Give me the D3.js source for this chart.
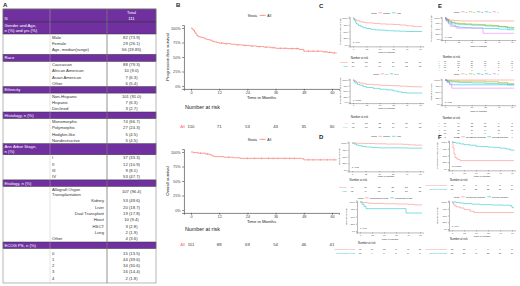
<!DOCTYPE html>
<html><head><meta charset="utf-8">
<script src="https://cdn.jsdelivr.net/npm/d3@7"></script>
<style>body{margin:0;background:#fff}svg{display:block;font-family:"Liberation Sans",Arial,sans-serif}</style>
</head><body><svg id="c" width="520" height="286"></svg>
<script>
// ---------------- DATA ----------------
const riskTimes = [0,12,24,36,48,60];
const axisTicksX = [0,12,24,36,48,60];
const axisTicksY = [0,0.25,0.5,0.75,1];

// Table A
const headerLabels = ["N","","Total","111"];
const genderTitle = ["Gender and Age,","n (%) and yrs (%)"];
const genderLabels = ["Male","Female","Age, median(range)"];
const genderValues = ["82 (73.9)","29 (26.1)","56 (19-85)"];
const raceLabels = ["Caucasian","African American","Asian American","Other"];
const raceValues = ["88 (79.3)","10 (9.0)","7 (6.3)","6 (5.4)"];
const ethLabels = ["Non-Hispanic","Hispanic","Declined"];
const ethValues = ["101 (91.0)","7 (6.3)","3 (2.7)"];
const histLabels = ["Monomorphic","Polymorphic","Hodgkin-like","Nondestructive"];
const histValues = ["74 (66.7)","27 (24.3)","5 (4.5)","5 (4.5)"];
const stageLabels = ["I","II","III","IV"];
const stageValues = ["37 (33.3)","12 (10.9)","9 (8.1)","53 (47.7)"];
const etioTopLabel = ["Allograft Organ","Transplantation"];
const etioTopValue = "107 (96.4)";
const organLabels = ["Kidney","Liver","Dual Transplant","Heart","HSCT","Lung"];
const organValues = ["53 (49.6)","20 (18.7)","19 (17.8)","10 (9.4)","3 (2.8)","2 (1.9)"];
const etioOther = ["Other","4 (3.6)"];
const ecogLabels = ["0","1","2","3","4"];
const ecogValues = ["15 (13.5)","44 (39.6)","34 (30.6)","16 (14.4)","2 (1.8)"];

// Panel B
const pfsAll = [[0,1],[0.5,0.98],[1,0.96],[1.5,0.93],[2,0.9],[2.5,0.87],[3,0.85],[4,0.84],[5,0.83],[6,0.81],[7,0.8],[8,0.79],[9,0.77],[10,0.76],[11,0.75],[12,0.74],[14,0.73],[17,0.72],[19,0.71],[22,0.7],[25,0.69],[28,0.68],[31,0.67],[34,0.66],[36,0.65],[41,0.645],[46,0.63],[48,0.6],[56,0.59],[58,0.58],[60,0.57],[62,0.57]];
const pfsCensor = [13,15,20,23,26,29,32,35,38,40,43,45,50,52,54,57,59,61];
const pfsRisk = [110,71,53,43,35,30];
const osAll = [[0,1],[1,0.99],[3,0.98],[6,0.965],[8,0.95],[9,0.93],[10,0.92],[14,0.91],[18,0.9],[21,0.89],[47,0.885],[48,0.865],[62,0.865]];
const osCensor = [4,7,16,24,27,30,33,35,37,40,42,44,50,52,55,58,61];
const osRisk = [111,88,69,54,46,41];

// Panel C
const cStrata1 = ["Normal","High"];
const c1a = [[0,1],[1,0.95],[3,0.9],[6,0.86],[9,0.84],[12,0.82],[18,0.8],[24,0.78],[30,0.77],[36,0.76],[42,0.74],[48,0.71],[54,0.68],[62,0.68]];
const c1b = [[0,1],[1,0.92],[2,0.85],[3,0.78],[5,0.72],[7,0.68],[9,0.64],[12,0.61],[16,0.58],[20,0.56],[24,0.55],[30,0.53],[36,0.52],[42,0.51],[48,0.5],[62,0.5]];
const c1Risk = [[50,37,29,24,20,17],[60,34,24,19,15,13]];
const cStrata2 = ["I-II","III-IV"];
const c2a = [[0,1],[1,0.96],[3,0.9],[6,0.86],[9,0.83],[12,0.8],[18,0.78],[24,0.76],[30,0.75],[36,0.74],[42,0.72],[48,0.7],[54,0.69],[62,0.69]];
const c2b = [[0,1],[1,0.93],[2,0.86],[4,0.8],[6,0.76],[9,0.7],[12,0.66],[18,0.62],[24,0.58],[30,0.55],[36,0.5],[40,0.46],[44,0.43],[48,0.41],[62,0.41]];
const c2Risk = [[48,35,28,24,21,17],[62,36,25,19,14,13]];

// Panel D
const d1a = [[0,1],[4,0.99],[10,0.98],[20,0.97],[30,0.96],[45,0.95],[50,0.93],[56,0.92],[62,0.92]];
const d1b = [[0,1],[2,0.96],[4,0.92],[6,0.9],[9,0.87],[12,0.85],[18,0.83],[24,0.82],[36,0.82],[48,0.81],[62,0.81]];
const d1Risk = [[49,39,33,28,25,21],[62,49,36,26,21,20]];
const dStrata2 = ["Monomorphic PTLD","Polymorphic PTLD"];
const d2a = [[0,1],[3,0.98],[8,0.96],[12,0.95],[24,0.94],[36,0.93],[48,0.92],[54,0.9],[62,0.9]];
const d2b = [[0,1],[2,0.92],[4,0.85],[6,0.77],[44,0.77],[46,0.62],[62,0.62]];
const d2Risk = [[98,79,62,49,41,36],[13,9,7,5,5,5]];

// Panel E (ECOG PS 0-4)
const eStrata = ["0","1","2","3","4"];
const e1s0 = [[0,1],[2,0.94],[4,0.9],[8,0.88],[12,0.86],[62,0.86]];
const e1s1 = [[0,1],[1,0.94],[3,0.86],[6,0.8],[9,0.76],[12,0.74],[18,0.72],[24,0.7],[30,0.68],[36,0.66],[42,0.63],[48,0.6],[54,0.56],[60,0.54],[62,0.54]];
const e1s2 = [[0,1],[1,0.92],[3,0.82],[6,0.76],[9,0.72],[12,0.7],[18,0.68],[24,0.66],[36,0.62],[48,0.58],[56,0.52],[62,0.52]];
const e1s3 = [[0,1],[1,0.88],[3,0.76],[6,0.66],[9,0.6],[12,0.56],[18,0.54],[24,0.52],[36,0.5],[48,0.47],[56,0.44],[62,0.44]];
const e1s4 = [[0,1],[1,0.85],[3,0.72],[5,0.6],[10,0.52],[30,0.52],[34,0.27],[62,0.27]];
const e1Risk = [[15,13,11,10,9,8],[44,30,24,19,16,13],[34,19,13,10,7,6],[15,8,5,4,3,3],[2,1,0,0,0,0]];
const e2s0 = [[0,1],[62,1]];
const e2s1 = [[0,1],[2,0.98],[6,0.96],[12,0.95],[36,0.93],[48,0.9],[56,0.86],[62,0.86]];
const e2s2 = [[0,1],[1,0.96],[3,0.93],[6,0.92],[12,0.9],[24,0.88],[36,0.86],[48,0.84],[56,0.8],[62,0.8]];
const e2s3 = [[0,1],[2,0.92],[4,0.84],[6,0.8],[62,0.8]];
const e2s4 = [[0,1],[2,0.9],[4,0.8],[6,0.66],[62,0.66]];
const e2Risk = [[15,14,12,11,9,8],[44,36,28,22,19,17],[34,25,19,14,12,11],[16,11,9,6,5,4],[2,2,1,1,1,1]];

// Panel F
const fStrata = ["No Rituxan response","Rituxan response"];
const f1a = [[0,1],[1,0.78],[2,0.56],[3,0.42],[5,0.36],[8,0.31],[62,0.31]];
const f1b = [[0,1],[2,0.98],[4,0.96],[8,0.93],[12,0.9],[18,0.88],[24,0.84],[30,0.83],[36,0.81],[42,0.8],[48,0.77],[54,0.74],[58,0.7],[62,0.68]];
const f1Risk = [[18,5,3,3,2,2],[58,47,38,32,26,19]];
const f2a = [[0,1],[1,0.94],[2,0.88],[4,0.82],[8,0.78],[12,0.72],[18,0.66],[22,0.61],[62,0.61]];
const f2b = [[0,1],[4,0.98],[8,0.96],[12,0.94],[20,0.92],[28,0.9],[40,0.89],[50,0.88],[58,0.86],[60,0.79],[62,0.79]];
const f2Risk = [[18,13,9,7,6,3],[58,50,40,33,27,19]];

const RED = "#F8766D", TEAL = "#00BFC4";
const ECOGCOL = ["#F8766D","#A3A500","#00BF7D","#00B0F6","#E76BF3"];

// ---------------- DRAW ----------------
const svg = d3.select("#c");
const PURPLE = "#7030A0";

function letter(t,x,y){svg.append("text").attr("x",x).attr("y",y).attr("font-size",6).attr("font-weight","bold").attr("fill","#222").text(t);}
letter("A",3,7);letter("B",176,7);letter("C",319,8);letter("D",319,139);letter("E",438,8);letter("F",438,139);

// ---- Table A ----
(function(){
  const tx0=3, c1=50, c2=107, tx1=156, fs=4.2, rh=6.3;
  const g = svg.append("g");
  let y = 9;
  function band(lines,h){
    g.append("rect").attr("x",tx0).attr("y",y).attr("width",tx1-tx0).attr("height",h).attr("fill",PURPLE).attr("stroke","#333").attr("stroke-width",0.5);
    lines.forEach((l,i)=>g.append("text").attr("x",tx0+1.5).attr("y",y+h/2+1.5-(lines.length-1)*2.6+i*5.2).attr("font-size",fs).attr("fill","#fff").text(l));
    y+=h;
  }
  function rows(labels,values,anchor){
    labels.forEach((l,i)=>{
      const cy=y+rh/2+1.4;
      const t=g.append("text").attr("y",cy).attr("font-size",fs).attr("fill","#333").text(l);
      if(anchor==="end") t.attr("x",c2-3).attr("text-anchor","end"); else t.attr("x",c1+2);
      g.append("text").attr("x",(c2+tx1)/2).attr("y",cy).attr("text-anchor","middle").attr("font-size",fs).attr("fill","#333").text(values[i]);
      y+=rh;
    });
  }
  const top=y;
  g.append("rect").attr("x",tx0).attr("y",y).attr("width",tx1-tx0).attr("height",13).attr("fill",PURPLE).attr("stroke","#333").attr("stroke-width",0.5);
  g.append("text").attr("x",tx0+1.5).attr("y",y+11).attr("font-size",fs).attr("fill","#fff").text(headerLabels[0]);
  g.append("text").attr("x",(c2+tx1)/2).attr("y",y+5.2).attr("text-anchor","middle").attr("font-size",fs).attr("fill","#fff").text(headerLabels[2]);
  g.append("text").attr("x",(c2+tx1)/2).attr("y",y+11).attr("text-anchor","middle").attr("font-size",fs).attr("fill","#fff").text(headerLabels[3]);
  y+=13;
  band(genderTitle,12); rows(genderLabels,genderValues); y+=1.5;
  band(["Race"],7); rows(raceLabels,raceValues);
  band(["Ethnicity"],6.5); rows(ethLabels,ethValues);
  band(["Histology, n (%)"],6.5); rows(histLabels,histValues);
  band(["Ann Arbor Stage,","n (%)"],11); rows(stageLabels,stageValues);
  band(["Etiology, n (%)"],6.5);
  etioTopLabel.forEach((l,i)=>g.append("text").attr("x",c1+2).attr("y",y+4.5+i*5.2).attr("font-size",fs).attr("fill","#333").text(l));
  g.append("text").attr("x",(c2+tx1)/2).attr("y",y+7).attr("text-anchor","middle").attr("font-size",fs).attr("fill","#333").text(etioTopValue);
  y+=11.5;
  rows(organLabels,organValues,"end");
  rows([etioOther[0]],[etioOther[1]]);
  band(["ECOG PS, n (%)"],6.5); y+=1.5; rows(ecogLabels,ecogValues);
  const bot=y+1.5;
  g.append("line").attr("x1",c2).attr("x2",c2).attr("y1",top).attr("y2",bot).attr("stroke","#777").attr("stroke-width",0.8);
  g.append("line").attr("x1",c1).attr("x2",c1).attr("y1",top).attr("y2",bot).attr("stroke","#bbb").attr("stroke-width",0.4);
  g.append("rect").attr("x",tx0).attr("y",top).attr("width",tx1-tx0).attr("height",bot-top).attr("fill","none").attr("stroke","#888").attr("stroke-width",0.6);
})();

// ---- KM plot helper ----
function km(c){
  const g = svg.append("g");
  const x = d3.scaleLinear().domain([0,60]).range([c.t0,c.t60]);
  const y = d3.scaleLinear().domain([0,1]).range([c.y0,c.y1]);
  const xa = d3.scaleLinear().domain([-3,63]).range([x(-3),x(63)]);
  const ya = d3.scaleLinear().domain([-0.05,1.05]).range([y(-0.05),y(1.05)]);
  const fs=c.fs, ax="#333";
  const gy = g.append("g").attr("transform",`translate(${x(-3)},0)`)
    .call(d3.axisLeft(ya).tickValues(axisTicksY).tickFormat(d3.format(".0%")).tickSize(c.tick).tickPadding(c.tick*0.8));
  const gx = g.append("g").attr("transform",`translate(0,${y(-0.05)})`)
    .call(d3.axisBottom(xa).tickValues(axisTicksX).tickFormat(d3.format("d")).tickSize(c.tick).tickPadding(c.tick*0.6));
  [gy,gx].forEach(a=>{a.selectAll("path,line").attr("stroke",ax).attr("stroke-width",c.aw);
    a.selectAll("text").attr("font-size",fs.tick).attr("fill","#444").attr("font-family","Liberation Sans, Arial, sans-serif");});
  const line = d3.line().x(d=>x(d[0])).y(d=>y(d[1])).curve(d3.curveStepAfter);
  c.curves.forEach((cv,i)=>{
    g.append("path").datum(cv).attr("d",line).attr("fill","none").attr("stroke",c.colors[i]).attr("stroke-width",c.lw);
    if(c.censor && c.censor[i]){
      const bis = d3.bisector(d=>d[0]).right;
      c.censor[i].forEach(t=>{
        const s = cv[Math.max(0,bis(cv,t)-1)][1];
        g.append("line").attr("x1",x(t)).attr("x2",x(t)).attr("y1",y(s)-c.cen).attr("y2",y(s)+c.cen).attr("stroke",c.colors[i]).attr("stroke-width",c.lw*0.8);
      });
    }
  });
  g.append("text").attr("x",(x(-3)+x(63))/2).attr("y",c.xlabY).attr("text-anchor","middle").attr("font-size",fs.title).attr("fill","#222").text("Time in Months");
  g.append("text").attr("transform",`translate(${c.ytX},${y(0.5)}) rotate(-90)`).attr("text-anchor","middle").attr("font-size",fs.title).attr("fill","#222").text(c.ytitle);
  if(c.pval) g.append("text").attr("x",x(0)).attr("y",y(0.06)).attr("font-size",fs.tick).attr("fill","#222").text(c.pval);
  const lg = g.append("g");
  let lx = 0;
  const st = lg.append("text").attr("x",0).attr("y",0).attr("font-size",fs.leg).attr("fill","#222").text("Strata");
  lx += st.node().getComputedTextLength()+fs.leg*0.8;
  c.strata.forEach((s,i)=>{
    lg.append("line").attr("x1",lx).attr("x2",lx+fs.leg*1.8).attr("y1",-fs.leg*0.33).attr("y2",-fs.leg*0.33).attr("stroke",c.colors[i]).attr("stroke-width",c.lw);
    lg.append("text").attr("x",lx+fs.leg*0.9).attr("y",-fs.leg*0.02).attr("text-anchor","middle").attr("font-size",fs.leg*0.9).attr("fill",c.colors[i]).text("+");
    lx += fs.leg*2.3;
    const t = lg.append("text").attr("x",lx).attr("y",0).attr("font-size",fs.leg).attr("fill","#222").text(s);
    lx += t.node().getComputedTextLength()+fs.leg*0.9;
  });
  lg.attr("transform",`translate(${c.legX-lx/2},${c.legY})`);
  g.append("text").attr("x",x(-3)+c.narDx).attr("y",c.narY).attr("font-size",fs.nar).attr("fill","#222").text("Number at risk");
  c.risk.forEach((r,i)=>{
    g.append("text").attr("x",x(-3)-c.rlabGap).attr("y",c.riskY[i]).attr("text-anchor","end").attr("font-size",fs.risk).attr("fill",c.colors[i]).text(c.strata[i]);
    r.forEach((v,j)=>g.append("text").attr("x",x(riskTimes[j])).attr("y",c.riskY[i]).attr("text-anchor","middle").attr("font-size",fs.risk).attr("fill","#333").text(v));
  });
}

const bigFs = {tick:3.8,title:4.3,leg:3.4,nar:5.4,risk:4.3};
km({t0:191,t60:332,y1:28,y0:86,curves:[pfsAll],censor:[pfsCensor],cen:0.9,colors:[RED],strata:["All"],risk:[pfsRisk],
  fs:bigFs,tick:1.8,aw:0.6,lw:0.7,legX:261,legY:16.5,xlabY:99,ytX:169,ytitle:"Progression-free survival",
  narY:109,narDx:1,riskY:[128],rlabGap:-1,pval:null});
km({t0:191,t60:332,y1:152,y0:210,curves:[osAll],censor:[osCensor],cen:0.9,colors:[RED],strata:["All"],risk:[osRisk],
  fs:bigFs,tick:1.8,aw:0.6,lw:0.7,legX:261,legY:140.5,xlabY:223,ytX:169,ytitle:"Overall survival",
  narY:231,narDx:1,riskY:[246],rlabGap:-1,pval:null});

const smFs = {tick:2.2,title:2.4,leg:2.1,nar:2.7,risk:2.3};
function small(o){ km(Object.assign({fs:smFs,tick:1,aw:0.35,lw:0.5,rlabGap:2,narDx:1},o)); }
small({t0:353,t60:420,y1:18,y0:45,curves:[c1a,c1b],colors:[RED,TEAL],strata:cStrata1,risk:c1Risk,
  legX:387,legY:13.5,xlabY:52.5,ytX:341,ytitle:"Progression-free survival",narY:58.5,riskY:[62.5,67],pval:"p=0.04"});
small({t0:353,t60:420,y1:80,y0:102,curves:[c2a,c2b],colors:[RED,TEAL],strata:cStrata2,risk:c2Risk,
  legX:387,legY:74.5,xlabY:109,ytX:341,ytitle:"Progression-free survival",narY:117.5,riskY:[123.5,128],pval:"p=0.018"});
small({t0:352,t60:420,y1:143,y0:170,curves:[d1a,d1b],colors:[RED,TEAL],strata:cStrata1,risk:d1Risk,
  legX:387,legY:137,xlabY:177,ytX:340,ytitle:"Overall survival",narY:180.5,riskY:[187.5,191.5],pval:"p=0.03"});
small({t0:360,t60:420,y1:202,y0:231,curves:[d2a,d2b],colors:[RED,TEAL],strata:dStrata2,risk:d2Risk,
  legX:386,legY:198.5,xlabY:240,ytX:347,ytitle:"Overall survival",narY:244,riskY:[249.5,253.5],pval:"p=0.01"});

small({t0:445,t60:512,y1:18,y0:39,curves:[e1s0,e1s1,e1s2,e1s3,e1s4],colors:ECOGCOL,strata:eStrata,risk:e1Risk,
  legX:477,legY:12.5,xlabY:46.5,ytX:432,ytitle:"Progression-free survival",narY:57.5,riskY:[61.5,63.8,66.1,68.4,70.7],pval:"p=0.03",
  fs:{tick:2.2,title:2.4,leg:2.1,nar:2.7,risk:2.1}});
small({t0:445,t60:512,y1:80,y0:104,curves:[e2s0,e2s1,e2s2,e2s3,e2s4],colors:ECOGCOL,strata:eStrata,risk:e2Risk,
  legX:477,legY:74.5,xlabY:111.5,ytX:432,ytitle:"Overall survival",narY:119,riskY:[123.5,127,130.5,134,137.5],pval:"p=0.13",
  fs:{tick:2.2,title:2.4,leg:2.1,nar:2.7,risk:2.1}});
small({t0:452,t60:512,y1:142,y0:169,curves:[f1a,f1b],colors:[RED,TEAL],strata:fStrata,risk:f1Risk,
  legX:482,legY:137.5,xlabY:176.5,ytX:438,ytitle:"Progression-free survival",narY:181,riskY:[185.5,189.5],pval:"p<0.0001"});
small({t0:452,t60:512,y1:202,y0:229,curves:[f2a,f2b],colors:[RED,TEAL],strata:fStrata,risk:f2Risk,
  legX:482,legY:197.5,xlabY:237,ytX:438,ytitle:"Overall survival",narY:240,riskY:[249.5,253.5],pval:"p=0.04"});
</script></body></html>
